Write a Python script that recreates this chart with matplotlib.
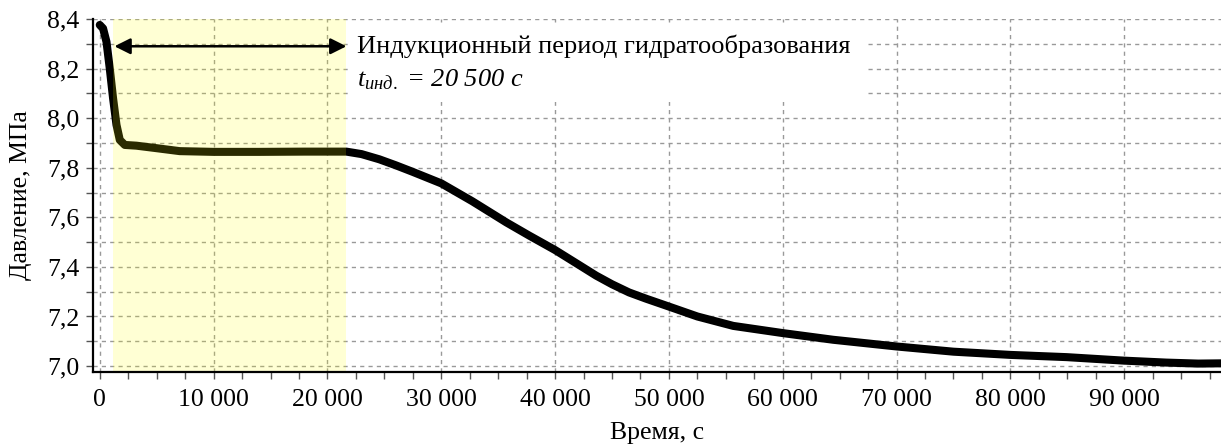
import numpy as np
import matplotlib.pyplot as plt
from matplotlib.ticker import MultipleLocator, FuncFormatter
from matplotlib.patches import Rectangle

plt.rcParams['font.family'] = ['Liberation Serif', 'DejaVu Serif']
plt.rcParams['mathtext.fontset'] = 'custom'
plt.rcParams['mathtext.rm'] = 'Liberation Serif'
plt.rcParams['mathtext.it'] = 'Liberation Serif:italic'

# pressure curve
time_s = [0, 290, 590, 880, 1170, 1470, 1760, 2200, 3220, 4970, 7020,
          10000, 14000, 18000, 21670, 23000, 24560, 26000, 27460, 30000, 32720,
          35700, 37700, 40000, 42100, 43600, 45000, 46500, 47980, 50000, 52500,
          55650, 60000, 64440, 70000, 75000, 80000, 84940, 89930, 93690, 96500, 98500]
pressure = [8.376, 8.362, 8.308, 8.20, 8.08, 7.973, 7.912, 7.892, 7.889, 7.879, 7.867,
            7.864, 7.864, 7.865, 7.865, 7.855, 7.834, 7.810, 7.784, 7.737, 7.665,
            7.580, 7.527, 7.468, 7.408, 7.365, 7.330, 7.297, 7.272, 7.240, 7.200,
            7.162, 7.133, 7.106, 7.079, 7.058, 7.045, 7.036, 7.022, 7.014, 7.010, 7.011]

# induction period
t_start = 1140
t_end = 21670
arrow_y = 8.29
label1 = 'Индукционный период гидратообразования'
label2 = r'$t_{инд.}$ = 20 500 с'

fig = plt.figure(figsize=(12.21, 4.46), dpi=100)
ax = fig.add_axes([0.0762, 0.1659, 0.9238, 0.7915])

ax.plot(time_s, pressure, color='black', lw=5.8, solid_capstyle='round',
        solid_joinstyle='round', zorder=3)
ax.axvspan(t_start, t_end, color='yellow', alpha=0.17, lw=0, zorder=4)

# white box behind the note
ax.add_patch(Rectangle((0.228, 0.765), 0.456, 0.215, transform=ax.transAxes,
                       facecolor='white', edgecolor='none', zorder=2))

ax.annotate('', xy=(t_start + 150, arrow_y), xytext=(t_end, arrow_y),
            arrowprops=dict(arrowstyle='<|-|>', color='black', lw=1.8,
                            mutation_scale=24, shrinkA=0, shrinkB=0), zorder=5)
ax.text(22600, arrow_y, label1, fontsize=19, va='center', ha='left', zorder=5)
ax.text(22600, 8.155, label2, fontsize=19, va='center', ha='left',
        style='italic', zorder=5)

ax.set_xlim(-590, 98500)
ax.set_ylim(6.976, 8.4)

ax.xaxis.set_major_locator(MultipleLocator(10000))
ax.xaxis.set_minor_locator(MultipleLocator(2500))
ax.yaxis.set_major_locator(MultipleLocator(0.2))
ax.yaxis.set_minor_locator(MultipleLocator(0.1))
ax.xaxis.set_major_formatter(FuncFormatter(lambda v, p: f'{int(round(v)):,}'.replace(',', ' ')))
ax.yaxis.set_major_formatter(FuncFormatter(lambda v, p: f'{v:.1f}'.replace('.', ',')))

ax.tick_params(which='both', direction='out', length=5, width=1, color='#555555',
               labelsize=18.5, pad=5)
ax.tick_params(axis='x', pad=7)

ax.grid(which='major', axis='x', color='#999999', ls=(0, (3, 3)), lw=1, zorder=1)
ax.grid(which='both', axis='y', color='#999999', ls=(0, (3, 3)), lw=1, zorder=1)
ax.set_axisbelow(True)

for s in ['top', 'right']:
    ax.spines[s].set_visible(False)
for s in ['left', 'bottom']:
    ax.spines[s].set_linewidth(1.6)
    ax.spines[s].set_zorder(6)

ax.set_xlabel('Время, с', fontsize=18.5, labelpad=8)
ax.set_ylabel('Давление, МПа', fontsize=18.5, labelpad=11)

fig.savefig('out.png', dpi=100)
